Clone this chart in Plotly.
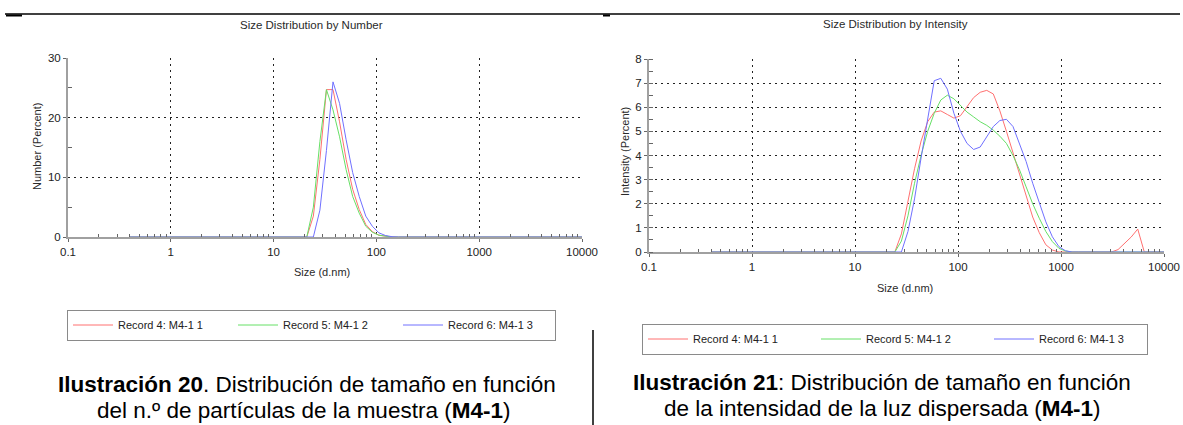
import plotly.graph_objects as go

# Size classes (d.nm) of the DLS report
sizes = [0.4, 0.4632, 0.5365, 0.6213, 0.7195, 0.8332, 0.9649, 1.117, 1.294, 1.499,
         1.736, 2.010, 2.328, 2.696, 3.122, 3.615, 4.187, 4.849, 5.615, 6.503,
         7.531, 8.721, 10.10, 11.70, 13.54, 15.69, 18.17, 21.04, 24.36, 28.21,
         32.67, 37.84, 43.82, 50.75, 58.77, 68.06, 78.82, 91.28, 105.7, 122.4,
         141.8, 164.2, 190.1, 220.2, 255.0, 295.3, 342.0, 396.1, 458.7, 531.2,
         615.1, 712.4, 825.0, 955.4, 1106, 1281, 1484, 1718, 1990, 2305,
         2669, 3091, 3580, 4145, 4801, 5560, 6439, 7456, 8635, 10000]

record_names = ["Record 4: M4-1 1", "Record 5: M4-1 2", "Record 6: M4-1 3"]
record_colors = ["#ff7070", "#66e066", "#7070ff"]

# Number distribution (%)
number_rec4 = [0, 0, 0, 0, 0, 0, 0, 0, 0, 0,
               0, 0, 0, 0, 0, 0, 0, 0, 0, 0,
               0, 0, 0, 0, 0, 0, 0, 0, 3.5, 13.0,
               24.7, 24.7, 19.3, 13.0, 8.0, 4.6, 2.1, 0.9, 0.3, 0.1,
               0, 0, 0, 0, 0, 0, 0, 0, 0, 0,
               0, 0, 0, 0, 0, 0, 0, 0, 0, 0,
               0, 0, 0, 0, 0, 0, 0, 0, 0, 0]
number_rec5 = [0, 0, 0, 0, 0, 0, 0, 0, 0, 0,
               0, 0, 0, 0, 0, 0, 0, 0, 0, 0,
               0, 0, 0, 0, 0, 0, 0, 0, 5.0, 16.0,
               24.7, 21.3, 16.8, 11.3, 6.8, 4.0, 1.8, 0.8, 0.3, 0.1,
               0, 0, 0, 0, 0, 0, 0, 0, 0, 0,
               0, 0, 0, 0, 0, 0, 0, 0, 0, 0,
               0, 0, 0, 0, 0, 0, 0, 0, 0, 0]
number_rec6 = [0, 0, 0, 0, 0, 0, 0, 0, 0, 0,
               0, 0, 0, 0, 0, 0, 0, 0, 0, 0,
               0, 0, 0, 0, 0, 0, 0, 0, 0, 4.5,
               14.5, 26.0, 22.4, 16.3, 10.8, 6.8, 3.5, 1.8, 0.7, 0.25,
               0.05, 0, 0, 0, 0, 0, 0, 0, 0, 0,
               0, 0, 0, 0, 0, 0, 0, 0, 0, 0,
               0, 0, 0, 0, 0, 0, 0, 0, 0, 0]

# Intensity distribution (%)
intensity_rec4 = [0, 0, 0, 0, 0, 0, 0, 0, 0, 0,
                  0, 0, 0, 0, 0, 0, 0, 0, 0, 0,
                  0, 0, 0, 0, 0, 0, 0, 0, 0, 0.75,
                  2.1, 3.45, 4.6, 5.4, 5.8, 5.85, 5.7, 5.55, 5.65, 6.0,
                  6.4, 6.62, 6.7, 6.55, 5.85, 5.0, 4.1, 3.2, 2.3, 1.45,
                  0.8, 0.3, 0.08, 0, 0, 0, 0, 0, 0, 0,
                  0, 0, 0.1, 0.35, 0.62, 0.95, 0, 0, 0, 0]
intensity_rec5 = [0, 0, 0, 0, 0, 0, 0, 0, 0, 0,
                  0, 0, 0, 0, 0, 0, 0, 0, 0, 0,
                  0, 0, 0, 0, 0, 0, 0, 0, 0, 0.45,
                  1.5, 2.85, 4.0, 5.0, 5.75, 6.3, 6.5, 6.35, 6.07, 5.8,
                  5.6, 5.4, 5.25, 5.05, 4.8, 4.5, 4.0, 3.4, 2.7, 2.0,
                  1.4, 0.85, 0.43, 0.15, 0.04, 0, 0, 0, 0, 0,
                  0, 0, 0, 0, 0, 0, 0, 0, 0, 0]
intensity_rec6 = [0, 0, 0, 0, 0, 0, 0, 0, 0, 0,
                  0, 0, 0, 0, 0, 0, 0, 0, 0, 0,
                  0, 0, 0, 0, 0, 0, 0, 0, 0, 0,
                  0.85, 2.2, 3.9, 5.5, 7.1, 7.2, 6.75, 5.75, 5.0, 4.5,
                  4.25, 4.35, 4.75, 5.2, 5.45, 5.5, 5.2, 4.5, 3.75, 2.85,
                  2.0, 1.25, 0.63, 0.22, 0.05, 0, 0, 0, 0, 0,
                  0, 0, 0, 0, 0, 0, 0, 0, 0, 0]

size_ticks = [0.1, 1, 10, 100, 1000, 10000]
size_ticktext = ["0.1", "1", "10", "100", "1000", "10000"]
number_ticks = [0, 10, 20, 30]
intensity_ticks = [0, 1, 2, 3, 4, 5, 6, 7, 8]

W, H = 1183, 425


def px(x):
    return x / W


def py(y):
    return 1 - y / H


CHART_FONT = "Liberation Sans, Arial, sans-serif"
CAPTION_FONT = "Liberation Sans, Arial, sans-serif"

fig = go.Figure()

number_series = [number_rec4, number_rec5, number_rec6]
intensity_series = [intensity_rec4, intensity_rec5, intensity_rec6]

# legend entry widths (px); the last entry of each legend is shorter
number_entry_widths = [110, 110, 102]
intensity_entry_widths = [118, 118, 103]

for name, color, vals, lw in zip(record_names, record_colors, number_series,
                                 number_entry_widths):
    fig.add_trace(go.Scatter(x=sizes, y=vals, mode="lines", name=name,
                             line=dict(color=color, width=1), legendwidth=lw,
                             xaxis="x", yaxis="y", legend="legend"))
for name, color, vals, lw in zip(record_names, record_colors, intensity_series,
                                 intensity_entry_widths):
    fig.add_trace(go.Scatter(x=sizes, y=vals, mode="lines", name=name,
                             line=dict(color=color, width=1), legendwidth=lw,
                             xaxis="x2", yaxis="y2", legend="legend2"))

minor_size = [m * 10 ** e for e in range(-1, 4) for m in range(2, 10)]

size_axis = dict(
    type="log", range=[-1, 4],
    tickvals=size_ticks, ticktext=size_ticktext,
    showline=True, linecolor="#a0a0a0", linewidth=2,
    showgrid=True, gridcolor="#222222", gridwidth=1, griddash="2px,4px",
    zeroline=False,
    ticks="outside", ticklen=3, tickcolor="#666666", tickwidth=1,
    minor=dict(tickvals=minor_size, ticks="inside", ticklen=3,
               tickcolor="#666666", showgrid=False),
    tickfont=dict(family=CHART_FONT, size=11.5, color="#222222"),
    fixedrange=True,
)

value_axis = dict(
    showline=True, linecolor="#a0a0a0", linewidth=2,
    showgrid=True, gridcolor="#222222", gridwidth=1, griddash="2px,4px",
    zeroline=False,
    ticks="outside", ticklen=3, tickcolor="#666666", tickwidth=1,
    tickfont=dict(family=CHART_FONT, size=11.5, color="#222222"),
    fixedrange=True,
)

legend_common = dict(
    orientation="h", xanchor="left", yanchor="middle",
    bordercolor="#8a8a8a", borderwidth=1, bgcolor="white",
    font=dict(family=CHART_FONT, size=11, color="#222222"),
    entrywidthmode="pixels", itemwidth=40, tracegroupgap=0,
)

fig.update_layout(
    width=W, height=H,
    margin=dict(l=0, r=0, t=0, b=0, autoexpand=False),
    paper_bgcolor="white", plot_bgcolor="white",
    showlegend=True,
    xaxis=dict(size_axis, domain=[px(68), px(582)], anchor="y"),
    yaxis=dict(value_axis, domain=[py(237), py(58)], anchor="x",
               range=[0, 30], tickvals=number_ticks,
               minor=dict(tickvals=[5, 15, 25], ticks="inside", ticklen=4,
                          tickcolor="#666666", showgrid=False)),
    xaxis2=dict(size_axis, domain=[px(649), px(1164)], anchor="y2"),
    yaxis2=dict(value_axis, domain=[py(252), py(59)], anchor="x2",
                range=[0, 8], tickvals=intensity_ticks,
                minor=dict(dtick=0.5, ticks="inside", ticklen=4,
                           tickcolor="#666666", showgrid=False)),
    legend=dict(legend_common, x=px(67), y=py(325), entrywidth=110),
    legend2=dict(legend_common, x=px(642), y=py(339), entrywidth=118),
)

texts = [
    ("Size Distribution by Number", 311, 25, 11.5, 0),
    ("Size Distribution by Intensity", 895, 24, 11.5, 0),
    ("Number (Percent)", 37, 147, 11, -90),
    ("Intensity (Percent)", 625, 152, 11, -90),
    ("Size (d.nm)", 322, 272, 11, 0),
    ("Size (d.nm)", 905, 288, 11, 0),
]
for t, x, y, s, ang in texts:
    fig.add_annotation(text=t, x=px(x), y=py(y), xref="paper", yref="paper",
                       showarrow=False, textangle=ang, xanchor="center", yanchor="middle",
                       font=dict(family=CHART_FONT, size=s, color="#2a2a2a"))

captions = [
    ("<b>Ilustración 20</b>. Distribución de tamaño en función", 307, 384),
    ("del n.º de partículas de la muestra (<b>M4-1</b>)", 303, 410),
    ("<b>Ilustración 21</b>: Distribución de tamaño en función", 882, 382),
    ("de la intensidad de la luz dispersada (<b>M4-1</b>)", 882, 408),
]
for t, x, y in captions:
    fig.add_annotation(text=t, x=px(x), y=py(y), xref="paper", yref="paper",
                       showarrow=False, xanchor="center", yanchor="middle",
                       font=dict(family=CAPTION_FONT, size=22.5, color="black"))

# page rule at the top and the column divider
fig.add_shape(type="line", xref="paper", yref="paper",
              x0=px(5), x1=px(1180), y0=py(14), y1=py(14),
              line=dict(color="black", width=1.5))
fig.add_shape(type="line", xref="paper", yref="paper",
              x0=px(6), x1=px(22), y0=py(15.5), y1=py(15.5),
              line=dict(color="black", width=2))
fig.add_shape(type="line", xref="paper", yref="paper",
              x0=px(603), x1=px(610), y0=py(15.5), y1=py(15.5),
              line=dict(color="black", width=2))
fig.add_shape(type="line", xref="paper", yref="paper",
              x0=px(593), x1=px(593), y0=py(330), y1=py(425),
              line=dict(color="black", width=1.5))

fig.write_html("out.html")
